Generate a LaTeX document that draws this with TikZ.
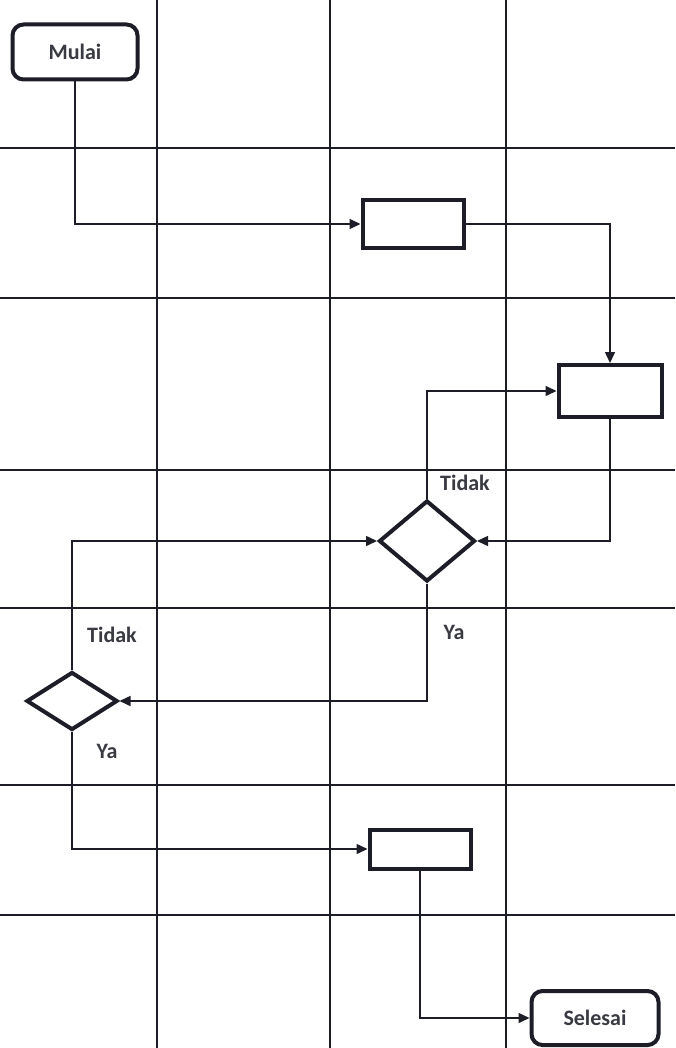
\documentclass[tikz,border=0pt]{standalone}
\usepackage{fontspec}
\setmainfont{Carlito}
\usetikzlibrary{arrows.meta,shapes.geometric}
\definecolor{linec}{HTML}{1C1D26}
\definecolor{textc}{HTML}{3A3B42}
\begin{document}
\begin{tikzpicture}[x=1pt,y=-1pt,
  gridline/.style={line width=2pt,draw=linec},
  conn/.style={line width=1.5pt,draw=linec,-{Triangle[length=11pt,width=10pt]}},
  term/.style={draw=linec,line width=4pt,rounded corners=11pt,fill=white,inner sep=0pt,
    font=\bfseries\fontsize{22}{26}\selectfont,text=textc},
  proc/.style={draw=linec,line width=4pt,fill=white,inner sep=0pt},
  dec/.style={diamond,draw=linec,line width=4pt,fill=white,inner sep=0pt},
  lbl/.style={font=\bfseries\fontsize{22}{26}\selectfont,text=textc,inner sep=0pt}]
\useasboundingbox (0,0) rectangle (675,1048);
\fill[white] (0,0) rectangle (675,1048);
% grid
\foreach \gx in {157,330,506} \draw[gridline] (\gx,0) -- (\gx,1048);
\foreach \gy in {148,298,470,608,785,915} \draw[gridline] (0,\gy) -- (675,\gy);
% nodes
\node[term,minimum width=125pt,minimum height=55pt] (mulai) at (75,52) {Mulai};
\node[proc,minimum width=101pt,minimum height=48pt] (box1) at (413,224) {};
\node[proc,minimum width=103pt,minimum height=52pt] (box2) at (610,391) {};
\node[dec,minimum width=96pt,minimum height=81pt] (d1) at (427,541) {};
\node[dec,minimum width=91pt,minimum height=58pt] (d2) at (72,701) {};
\node[proc,minimum width=101pt,minimum height=39pt] (box3) at (420,849) {};
\node[term,minimum width=127pt,minimum height=54pt] (sel) at (595,1018) {Selesai};
% connectors
\draw[conn] (mulai.south) |- (box1.west);
\draw[conn] (box1.east) -| (box2.north);
\draw[conn] (box2.south) |- (d1.east);
\draw[conn] (d1.north) |- (box2.west);
\draw[conn] (d1.south) |- (d2.east);
\draw[conn] (d2.north) |- (d1.west);
\draw[conn] (d2.south) |- (box3.west);
\draw[conn] (box3.south) |- (sel.west);
% labels
\node[lbl] (t1) at (465,483) {Tidak};
\node[lbl] (y1) at (454,632) {Ya};
\node[lbl] (t2) at (112,635) {Tidak};
\node[lbl] (y2) at (107,751) {Ya};
\end{tikzpicture}
\end{document}
